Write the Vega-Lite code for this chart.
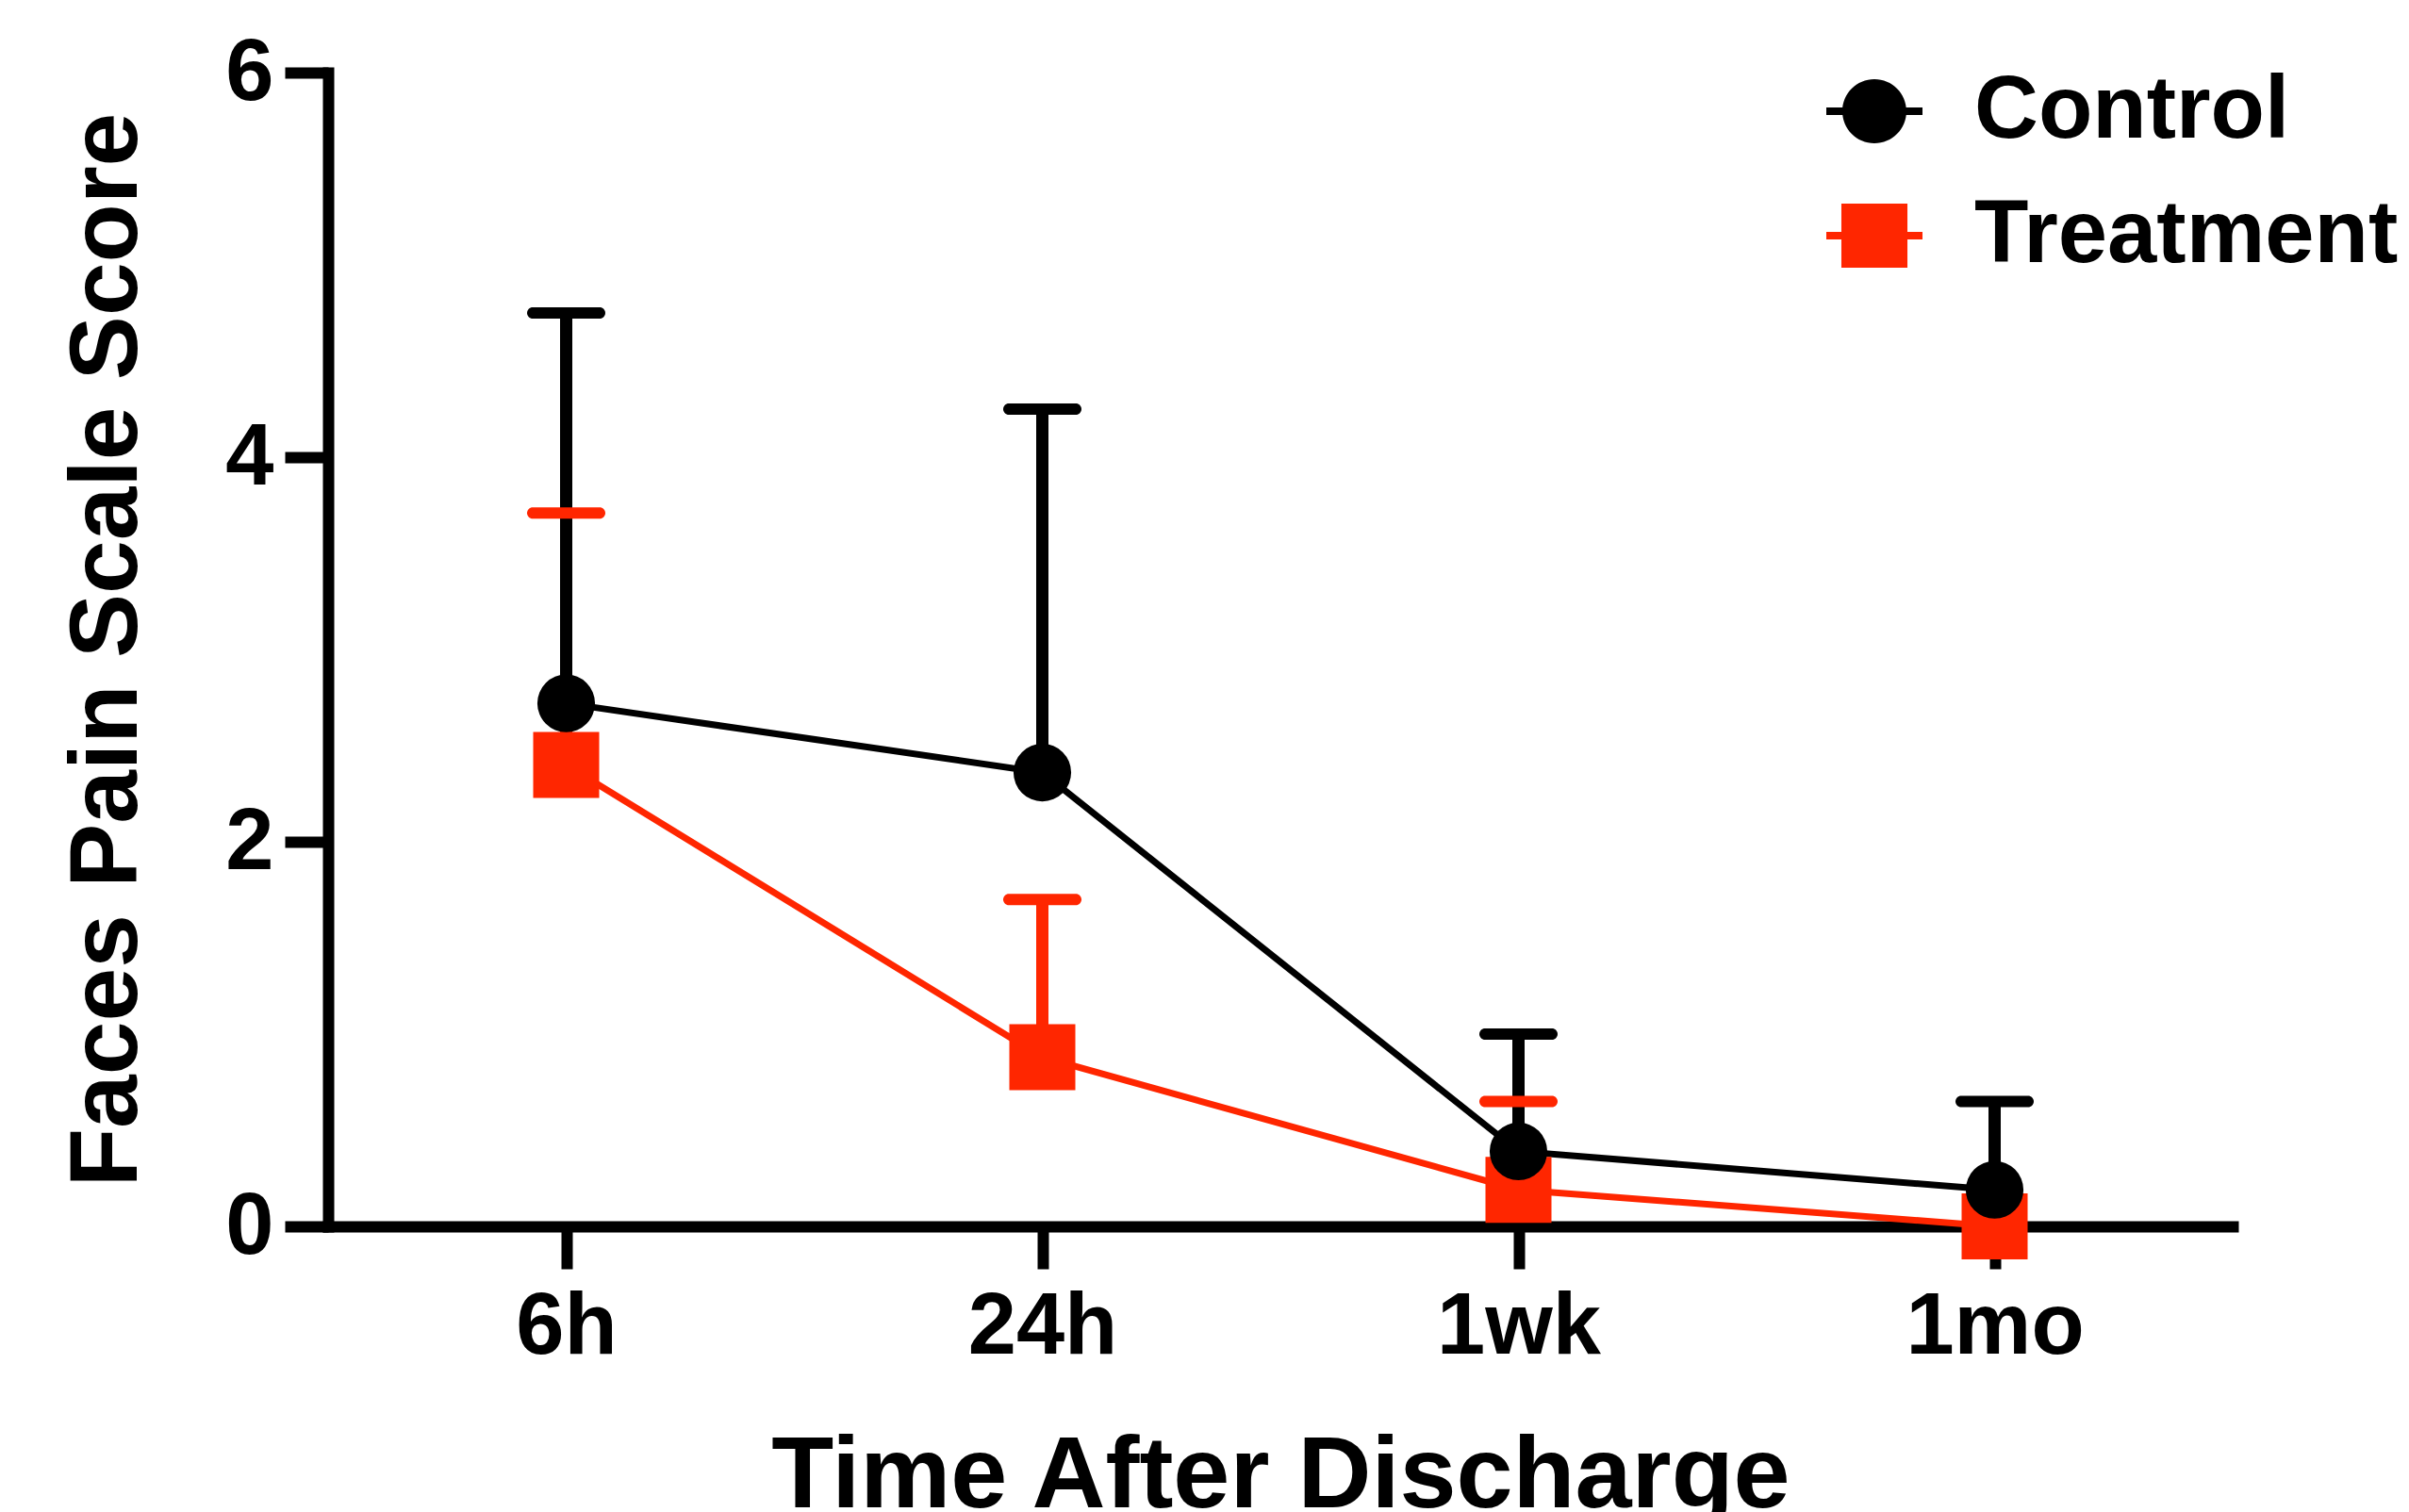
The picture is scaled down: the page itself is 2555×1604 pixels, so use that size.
{
  "$schema": "https://vega.github.io/schema/vega-lite/v6.json",
  "width": 2020,
  "height": 1224,
  "autosize": {"type": "none"},
  "padding": {"left": 348, "top": 77, "right": 187, "bottom": 303},
  "background": "white",
  "config": {
    "view": {"stroke": null},
    "axis": {
      "grid": false,
      "domainColor": "#000000",
      "domainWidth": 12,
      "domainCap": "square",
      "tickColor": "#000000",
      "tickWidth": 12,
      "labelFont": "Liberation Sans",
      "labelFontWeight": "bold",
      "labelColor": "#000000",
      "labelLimit": 600,
      "titleFont": "Liberation Sans",
      "titleFontWeight": "bold",
      "titleColor": "#000000",
      "titleLimit": 3000
    }
  },
  "data": {
    "values": [
      {"group": "Treatment", "time": "6h", "mean": 2.40, "upper": 3.71},
      {"group": "Treatment", "time": "24h", "mean": 0.88, "upper": 1.70},
      {"group": "Treatment", "time": "1wk", "mean": 0.19, "upper": 0.65},
      {"group": "Treatment", "time": "1mo", "mean": 0.0, "upper": null},
      {"group": "Control", "time": "6h", "mean": 2.72, "upper": 4.75},
      {"group": "Control", "time": "24h", "mean": 2.36, "upper": 4.25},
      {"group": "Control", "time": "1wk", "mean": 0.39, "upper": 1.0},
      {"group": "Control", "time": "1mo", "mean": 0.19, "upper": 0.65}
    ]
  },
  "resolve": {
    "scale": {"color": "independent", "shape": "independent", "size": "independent"},
    "legend": {"color": "independent", "shape": "independent", "size": "independent"}
  },
  "encoding": {
    "x": {
      "field": "time",
      "type": "ordinal",
      "sort": ["6h", "24h", "1wk", "1mo"],
      "scale": {"type": "point", "padding": 0.5},
      "axis": {
        "title": "Time After Discharge",
        "titleFontSize": 108,
        "titlePadding": 60,
        "labelFontSize": 92,
        "labelAngle": 0,
        "labelPadding": 16,
        "tickSize": 45
      }
    }
  },
  "layer": [
    {
      "mark": {"type": "rule", "strokeWidth": 13},
      "encoding": {
        "y": {
          "field": "mean",
          "type": "quantitative",
          "scale": {"domain": [0, 6], "nice": false, "zero": true},
          "axis": {
            "values": [0, 2, 4, 6],
            "format": "d",
            "title": "Faces Pain Scale Score",
            "titleFontSize": 102,
            "titlePadding": 73,
            "labelFontSize": 92,
            "labelPadding": 12,
            "tickSize": 46
          }
        },
        "y2": {"field": "upper"},
        "color": {"field": "group", "type": "nominal", "scale": {"domain": ["Control", "Treatment"], "range": ["#000000", "#FF2600"]}, "legend": null}
      }
    },
    {
      "mark": {"type": "tick", "size": 83, "thickness": 12, "cornerRadius": 6, "opacity": 1},
      "encoding": {
        "y": {"field": "upper", "type": "quantitative"},
        "color": {"field": "group", "type": "nominal", "scale": {"domain": ["Control", "Treatment"], "range": ["#000000", "#FF2600"]}, "legend": null}
      }
    },
    {
      "mark": {"type": "line", "strokeWidth": 7},
      "encoding": {
        "y": {"field": "mean", "type": "quantitative"},
        "color": {"field": "group", "type": "nominal", "scale": {"domain": ["Control", "Treatment"], "range": ["#000000", "#FF2600"]}, "legend": null}
      }
    },
    {
      "mark": {"type": "point", "filled": true, "opacity": 1, "strokeWidth": 0},
      "encoding": {
        "y": {"field": "mean", "type": "quantitative"},
        "color": {"field": "group", "type": "nominal", "scale": {"domain": ["Control", "Treatment"], "range": ["#000000", "#FF2600"]}, "legend": null},
        "shape": {"field": "group", "type": "nominal", "scale": {"domain": ["Control", "Treatment"], "range": ["circle", "square"]}, "legend": null},
        "size": {"field": "group", "type": "nominal", "scale": {"domain": ["Control", "Treatment"], "range": [3740, 4900]}, "legend": null}
      }
    },
    {
      "mark": {"type": "point", "filled": true, "opacity": 0, "strokeWidth": 0, "size": 4624},
      "encoding": {
        "y": {"field": "mean", "type": "quantitative"},
        "color": {
          "field": "group",
          "type": "nominal",
          "scale": {"domain": ["Control", "Treatment"], "range": ["#000000", "#FF2600"]},
          "legend": {
            "title": null,
            "orient": "none",
            "legendX": 1593,
            "legendY": -6,
            "padding": 0,
            "labelFont": "Liberation Sans",
            "labelFontWeight": "bold",
            "labelFontSize": 94,
            "labelColor": "#000000",
            "labelLimit": 600,
            "labelOffset": 59,
            "rowPadding": 38,
            "symbolSize": 4624,
            "symbolStrokeWidth": 0,
            "symbolOpacity": 1
          }
        },
        "shape": {
          "field": "group",
          "type": "nominal",
          "scale": {
            "domain": ["Control", "Treatment"],
            "range": [
              "M-1,0 A1,1 0 1,1 1,0 A1,1 0 1,1 -1,0 Z M-1.5,-0.12 L-0.95,-0.12 L-0.95,0.12 L-1.5,0.12 Z M0.95,-0.12 L1.5,-0.12 L1.5,0.12 L0.95,0.12 Z",
              "M-1.03,-1 L1.03,-1 L1.03,1 L-1.03,1 Z M-1.5,-0.12 L-1,-0.12 L-1,0.12 L-1.5,0.12 Z M1,-0.12 L1.5,-0.12 L1.5,0.12 L1,0.12 Z"
            ]
          },
          "legend": {
            "title": null,
            "orient": "none",
            "legendX": 1593,
            "legendY": -6,
            "padding": 0,
            "labelFont": "Liberation Sans",
            "labelFontWeight": "bold",
            "labelFontSize": 94,
            "labelColor": "#000000",
            "labelLimit": 600,
            "labelOffset": 59,
            "rowPadding": 38,
            "symbolSize": 4624,
            "symbolStrokeWidth": 0,
            "symbolOpacity": 1
          }
        }
      }
    }
  ]
}
